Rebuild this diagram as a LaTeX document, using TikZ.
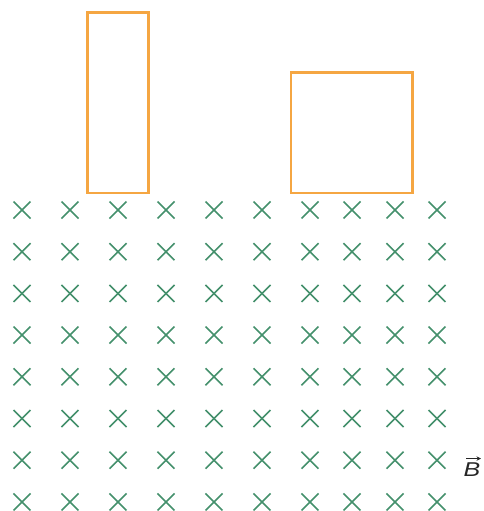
\documentclass[tikz,border=0pt]{standalone}
\usepackage{fontspec}
\setmainfont{Liberation Sans}
\usetikzlibrary{arrows.meta}
\definecolor{loop}{HTML}{F5A642}
\definecolor{field}{HTML}{44906C}
\tikzset{
  loopbox/.style={draw=loop,line width=2.6pt},
  fieldx/.style={draw=field,line width=1.6pt},
}
\begin{document}
\begin{tikzpicture}[x=1pt,y=-1pt]
\useasboundingbox (0,0) rectangle (484,511);
\foreach \cx in {22,70,118,166,214,262,310,352,395,437}{
  \foreach \cy in {210,251.7,293.4,335.1,376.8,418.5,460.2,501.9}{
    \draw[fieldx] (\cx-8.5,\cy-8.5) -- (\cx+8.5,\cy+8.5);
    \draw[fieldx] (\cx-8.5,\cy+8.5) -- (\cx+8.5,\cy-8.5);
  }
}
\draw[loopbox] (87.5,12.5) rectangle (148.5,193);
\draw[loopbox] (291,72.5) rectangle (412.5,193);
\node[inner sep=0pt,anchor=base,text=black!85,xscale=1.25] (B) at (472,476.5) {\fontsize{20}{24}\selectfont\itshape B};
\draw[-{Stealth[length=4.5pt,width=4.5pt]},line width=1pt,black!85] ([xshift=-6pt,yshift=4pt]B.north) coordinate (a0) -- ([xshift=9pt,yshift=4pt]B.north);
\end{tikzpicture}
\end{document}
